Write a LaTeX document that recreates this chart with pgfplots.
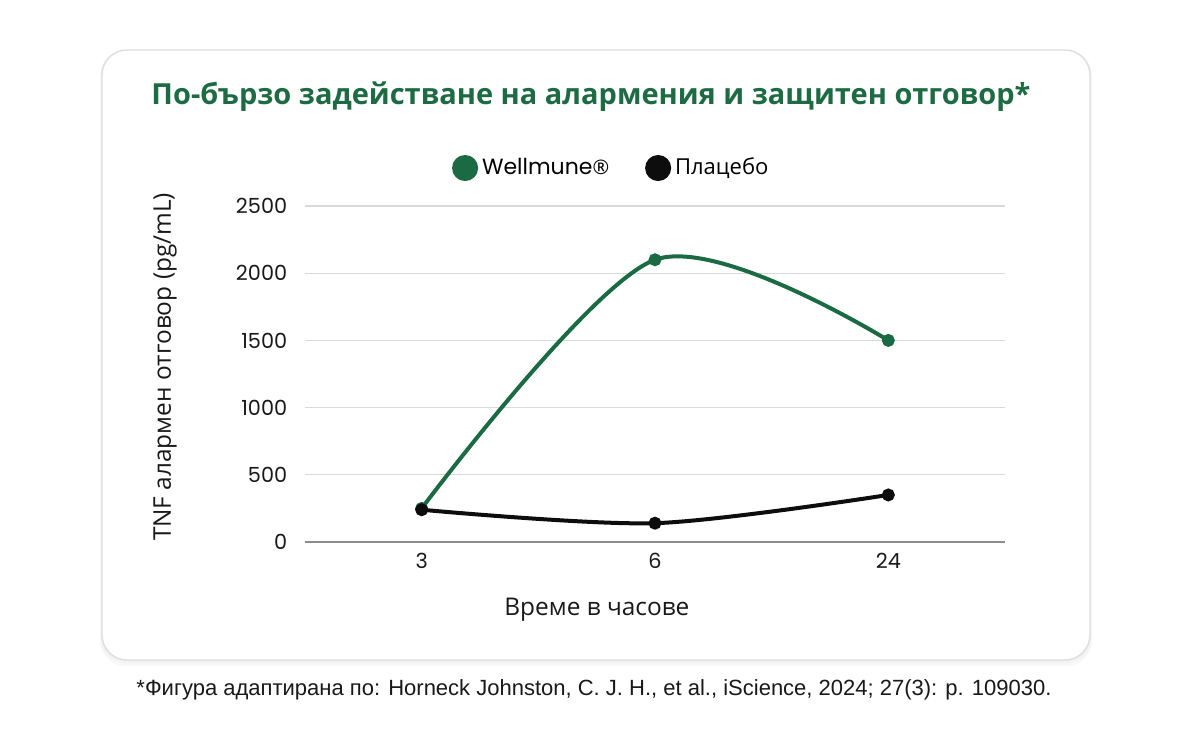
\documentclass[border=0pt]{standalone}
\usepackage{pgfplots}
\pgfplotsset{compat=1.18}
\usepackage{fontspec}
\setmainfont{Open Sans}
\newfontfamily\pop{Poppins}
\newfontfamily\foot{Liberation Sans}
\definecolor{wgreen}{RGB}{26,107,68}
\definecolor{tgreen}{RGB}{29,107,67}

\begin{document}
\begin{tikzpicture}[x=0.5pt,y=0.5pt]
\fill[white] (0,0) rectangle (1200,750);
% card with a soft shadow
\fill[black!3, rounded corners=13pt] (100,84) rectangle (1092,700);
\fill[black!5, rounded corners=13pt] (101,87) rectangle (1091,700);
\draw[black!13, line width=0.7pt, fill=white, rounded corners=12.5pt] (102,90) rectangle (1090,700);
\node[font=\bfseries\fontsize{14.5}{17}\selectfont, text=tgreen] at (591,653)
  {По-бързо задействане на алармения и защитен отговор*};

\begin{axis}[
    at={(152.5pt,104pt)}, anchor=south west,
    scale only axis, width=350pt, height=168pt,
    xmin=-0.5, xmax=2.5, ymin=0, ymax=2500,
    xtick={0,1,2}, xticklabels={3,6,24},
    ytick={0,500,1000,1500,2000,2500},
    /pgf/number format/.cd, 1000 sep={}, assume math mode=true, /pgfplots/.cd,
    axis x line=bottom, axis y line=left,
    x axis line style={-, black!45, line width=0.7pt},
    y axis line style={draw=none},
    major tick length=0pt,
    ymajorgrids, grid style={black!15, line width=0.6pt},
    tick label style={font=\pop\fontsize{10.4}{12}\selectfont, text=black!90},
    yticklabel style={xshift=-5.4pt},
    xticklabel style={yshift=-2pt},
    xlabel={Време в часове},
    ylabel={TNF алармен отговор (pg/mL)},
    label style={font=\fontsize{12.2}{14}\selectfont, text=black!90},
    xlabel style={at={(axis description cs:0.417,-0.202)}, anchor=center},
    ylabel style={at={(axis description cs:-0.2,0.521)}, anchor=center},
    legend style={at={(axis description cs:0.439,1.113)}, anchor=center,
        draw=none, fill=none, legend columns=2,
        font=\fontsize{11}{13}\selectfont,
        /tikz/every even column/.append style={column sep=16pt}},
    legend image code/.code={\fill[#1] (0.3cm,0) circle (5.5pt);},
]
\addplot[wgreen, line width=2pt, smooth, mark=*, mark size=2.2pt]
    coordinates {(0,250) (1,2100) (2,1500)};
\addplot[black!95, line width=2pt, smooth, mark=*, mark size=2.2pt]
    coordinates {(0,240) (1,140) (2,350)};
\legend{{\pop Wellmune{\fontsize{10}{12}\selectfont\rmfamily ®}}, Плацебо}
\end{axis}

\node[font=\foot\fontsize{11}{13}\selectfont, text=black!90] at (594,60)
  {*Фигура адаптирана по: Horneck Johnston, C. J. H., et al., iScience, 2024; 27(3): p. 109030.};
\end{tikzpicture}
\end{document}
